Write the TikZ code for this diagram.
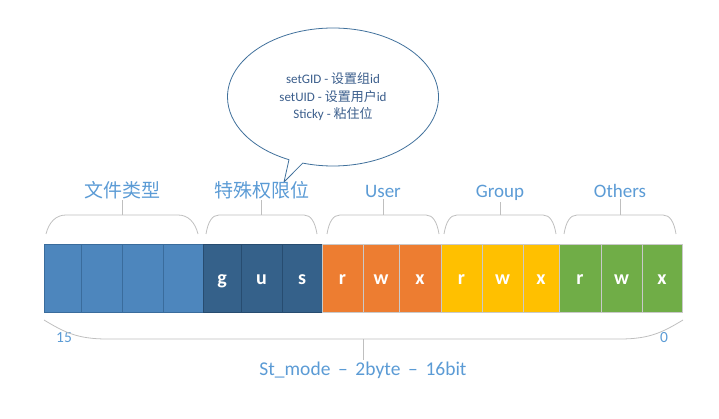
\documentclass[tikz,border=0pt]{standalone}
\usepackage{fontspec}
\setmainfont{Carlito}
\newfontfamily\cjk{Noto Sans CJK SC}
\usetikzlibrary{shapes.callouts}
\definecolor{TypeBlue}{HTML}{4D86BD}
\definecolor{TypeEdge}{HTML}{3A6C9C}
\definecolor{SpecBlue}{HTML}{35618A}
\definecolor{SpecEdge}{HTML}{274C70}
\definecolor{UserOrange}{HTML}{ED7D31}
\definecolor{GroupGold}{HTML}{FFC000}
\definecolor{OthersGreen}{HTML}{70AD47}
\definecolor{CellEdge}{HTML}{C9C9C9}
\definecolor{LabelBlue}{HTML}{5B9BD5}
\definecolor{BraceGray}{HTML}{BFBFBF}
\definecolor{NoteEdge}{HTML}{41719C}
\definecolor{NoteText}{HTML}{3B5E8C}

\begin{document}
\begin{tikzpicture}[
    x=1pt, y=-1pt,
    bit/.style={
        draw=CellEdge,
        line width=0.8pt,
        minimum height=68pt,
        inner sep=0pt,
        text height=15pt,
        text depth=2pt,
        font=\fontsize{20}{24}\selectfont\bfseries,
        text=white,
    },
    grouplabel/.style={
        font=\fontsize{19}{22}\selectfont,
        text=LabelBlue,
        inner sep=1pt,
        anchor=base,
    },
    numlabel/.style={
        font=\fontsize{15.5}{18}\selectfont,
        text=LabelBlue,
        inner sep=0pt,
    },
    bracket/.style={
        draw=BraceGray,
        line width=0.8pt,
    },
    note/.style={
        ellipse callout,
        draw=NoteEdge,
        fill=white,
        line width=0.8pt,
        minimum width=211pt,
        minimum height=138pt,
        align=center,
        font=\fontsize{13}{17.5}\selectfont,
        text=NoteText,
        callout pointer arc=8,
    },
]
\useasboundingbox (0,0) rectangle (719,419);

% the 16 bits of st_mode
\node[bit,fill=TypeBlue,draw=TypeEdge,minimum width=37pt] (b15) at (62.5,278.3) {};
\node[bit,fill=TypeBlue,draw=TypeEdge,minimum width=41pt] (b14) at (101.5,278.3) {};
\node[bit,fill=TypeBlue,draw=TypeEdge,minimum width=41pt] (b13) at (142.5,278.3) {};
\node[bit,fill=TypeBlue,draw=TypeEdge,minimum width=40pt] (b12) at (183,278.3) {};
\node[bit,fill=SpecBlue,draw=SpecEdge,minimum width=38pt] (b11) at (222,278.3) {g};
\node[bit,fill=SpecBlue,draw=SpecEdge,minimum width=41pt] (b10) at (261.5,278.3) {u};
\node[bit,fill=SpecBlue,draw=SpecEdge,minimum width=40pt] (b9) at (302,278.3) {s};
\node[bit,fill=UserOrange,minimum width=41pt] (b8) at (342.5,278.3) {r};
\node[bit,fill=UserOrange,minimum width=36pt] (b7) at (381,278.3) {w};
\node[bit,fill=UserOrange,minimum width=42pt] (b6) at (420,278.3) {x};
\node[bit,fill=GroupGold,minimum width=41pt] (b5) at (461.5,278.3) {r};
\node[bit,fill=GroupGold,minimum width=41pt] (b4) at (502.5,278.3) {w};
\node[bit,fill=GroupGold,minimum width=36pt] (b3) at (541,278.3) {x};
\node[bit,fill=OthersGreen,minimum width=42pt] (b2) at (580,278.3) {r};
\node[bit,fill=OthersGreen,minimum width=41pt] (b1) at (621.5,278.3) {w};
\node[bit,fill=OthersGreen,minimum width=40pt] (b0) at (662,278.3) {x};

% callout
\coordinate (tip) at (284,182);
\node[note,callout absolute pointer={(tip)}] (note) at (333,97) {%
    setGID - {\cjk 设置组}id\\
    setUID - {\cjk 设置用户}id\\
    Sticky - {\cjk 粘住位}};

% group labels
\node[grouplabel] (lbltype) at (122,197.5) {\cjk 文件类型};
\node[grouplabel] (lblspecial) at (261.5,197.5) {\cjk 特殊权限位};
\node[grouplabel] (lbluser) at (383,197.5) {User};
\node[grouplabel] (lblgroup) at (500,197.5) {Group};
\node[grouplabel] (lblothers) at (620,197.5) {Others};

% brackets over the groups
\coordinate (brtype) at (122,215);
\coordinate (brspecial) at (261.5,215);
\coordinate (bruser) at (383,215);
\coordinate (brgroup) at (500,215);
\coordinate (brothers) at (620,215);
\draw[bracket] (46,234) .. controls +(3,-12) and +(-10,0) .. (66,215) -- (178,215) .. controls +(10,0) and +(-3,-12) .. (198,234);
\draw[bracket] (206,234) .. controls +(2,-12) and +(-7,0) .. (219,215) -- (304,215) .. controls +(7,0) and +(-2,-12) .. (317,234);
\draw[bracket] (327,234) .. controls +(2,-12) and +(-7,0) .. (340,215) -- (426,215) .. controls +(7,0) and +(-2,-12) .. (439,234);
\draw[bracket] (444,234) .. controls +(2,-12) and +(-7,0) .. (457,215) -- (543,215) .. controls +(7,0) and +(-2,-12) .. (556,234);
\draw[bracket] (564,234) .. controls +(2,-12) and +(-7,0) .. (577,215) -- (663,215) .. controls +(7,0) and +(-2,-12) .. (676,234);
\draw[bracket] (brtype) -- (lbltype);
\draw[bracket] (brspecial) -- (lblspecial);
\draw[bracket] (bruser) -- (lbluser);
\draw[bracket] (brgroup) -- (lblgroup);
\draw[bracket] (brothers) -- (lblothers);

% bracket under the whole field
\node[numlabel] (n15) at (64,338) {15};
\node[numlabel] (n0) at (664,338) {0};
\node[grouplabel,font=\fontsize{19.5}{22}\selectfont] (lblmode) at (363,375) {St\_mode \,--\, 2byte \,--\, 16bit};
\coordinate (brmode) at (363,339);
\draw[bracket] (44,320) .. controls +(20,12) and +(-30,0) .. (107,339) -- (620,339) .. controls +(30,0) and +(-20,12) .. (683,320);
\draw[bracket] (brmode) -- (lblmode);
\end{tikzpicture}
\end{document}
